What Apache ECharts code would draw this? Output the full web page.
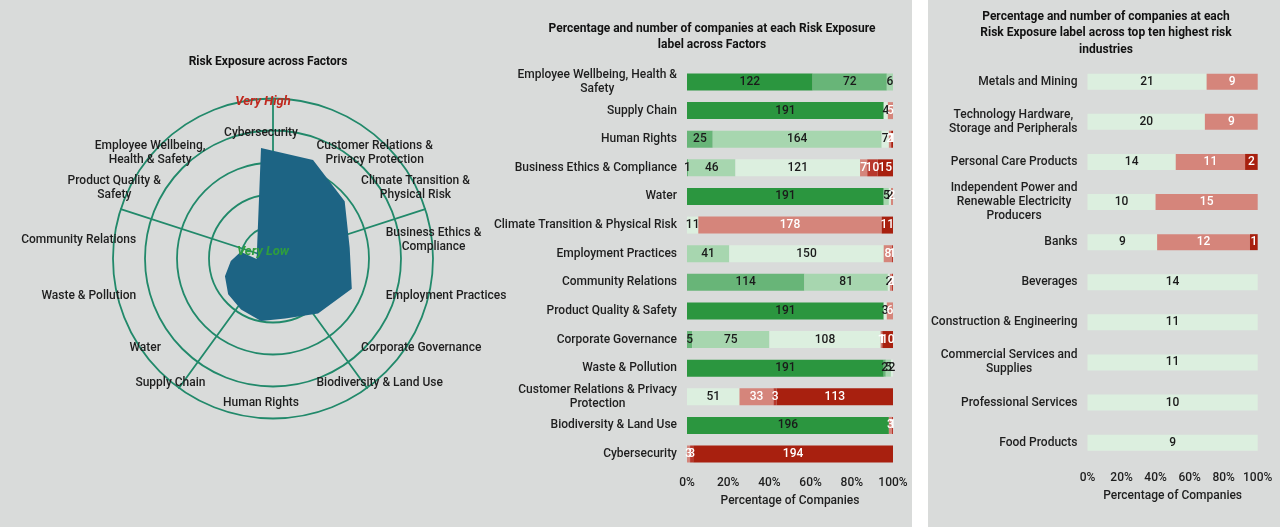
<!DOCTYPE html>
<html>
<head>
<meta charset="utf-8">
<script src="https://cdn.jsdelivr.net/npm/echarts@6/dist/echarts.min.js"></script>
<style>
  html, body { margin: 0; padding: 0; background: #ffffff; }
  #left { position: absolute; left: 0; top: 0; width: 912px; height: 527px; background: #d9dbda; }
  #right { position: absolute; left: 928px; top: 0; width: 352px; height: 527px; background: #d9dbda; }
</style>
</head>
<body>
<div id="left"></div>
<div id="right"></div>
<script>
const FONT = "Roboto";
const TEXT = "#1e1e1e";
const W = 500;

// radar: risk score per factor, clockwise from the top (0 = Very Low, 5 = Very High)
const radarFactors = [
  "Cybersecurity", "Customer Relations &\nPrivacy Protection", "Climate Transition &\nPhysical Risk",
  "Business Ethics &\nCompliance", "Employment Practices", "Corporate Governance",
  "Biodiversity & Land Use", "Human Rights", "Supply Chain", "Water", "Waste & Pollution",
  "Community Relations", "Product Quality &\nSafety", "Employee Wellbeing,\nHealth & Safety"
];
const radarScores = [5.0, 5.0, 4.46, 3.79, 3.88, 3.04, 2.33, 2.21, 1.92, 1.75, 1.54, 1.29, 1.08, 0.42];

// number of companies per risk label, by factor (top to bottom)
const factors = [
  "Employee Wellbeing, Health &\nSafety", "Supply Chain", "Human Rights", "Business Ethics & Compliance",
  "Water", "Climate Transition & Physical Risk", "Employment Practices", "Community Relations",
  "Product Quality & Safety", "Corporate Governance", "Waste & Pollution",
  "Customer Relations & Privacy\nProtection", "Biodiversity & Land Use", "Cybersecurity"
];
const fVeryLow   = [122, 191, 0, 0, 191, 0, 0, 0, 191, 0, 191, 0, 196, 0];
const fLow       = [72, 0, 25, 1, 0, 0, 0, 114, 0, 5, 2, 0, 0, 0];
const fModLow    = [6, 0, 164, 46, 5, 0, 41, 81, 0, 75, 5, 0, 0, 0];
const fModerate  = [0, 4, 7, 121, 2, 11, 150, 2, 3, 108, 2, 51, 0, 0];
const fModHigh   = [0, 5, 2, 7, 2, 178, 8, 2, 6, 1, 0, 33, 3, 3];
const fHigh      = [0, 0, 1, 10, 0, 0, 1, 1, 0, 1, 0, 3, 1, 3];
const fVeryHigh  = [0, 0, 1, 15, 0, 11, 0, 0, 0, 10, 0, 113, 0, 194];

// top ten highest risk industries
const industries = [
  "Metals and Mining", "Technology Hardware,\nStorage and Peripherals", "Personal Care Products",
  "Independent Power and\nRenewable Electricity\nProducers", "Banks", "Beverages",
  "Construction & Engineering", "Commercial Services and\nSupplies", "Professional Services", "Food Products"
];
const iModerate = [21, 20, 14, 10, 9, 14, 11, 11, 10, 9];
const iModHigh  = [9, 9, 11, 15, 12, 0, 0, 0, 0, 0];
const iVeryHigh = [0, 0, 2, 0, 1, 0, 0, 0, 0, 0];

const C = {
  veryLow: "#2b963f", low: "#68b578", modLow: "#a7d6af", moderate: "#dcefdf",
  modHigh: "#d5857b", high: "#b8382c", veryHigh: "#a8200f"
};

function centered(s) {
  return s.split("\n").map(l => "{c|" + l + "}").join("\n");
}
const richC = { c: { align: "center", fontFamily: FONT, fontSize: 12, fontWeight: W, color: TEXT, lineHeight: 14 } };

function totalsOf(lists) {
  return lists[0].map((_, i) => lists.reduce((s, l) => s + l[i], 0));
}

function barSeries(name, counts, totals, color, textColor, width) {
  return {
    name: name, type: "bar", stack: "all", barWidth: width,
    itemStyle: { color: color },
    label: {
      show: true, position: "inside", color: textColor, fontFamily: FONT, fontSize: 12, fontWeight: W,
      formatter: p => counts[p.dataIndex] ? String(counts[p.dataIndex]) : ""
    },
    data: counts.map((c, i) => c / totals[i] * 100)
  };
}

function pctAxis() {
  return {
    type: "value", min: 0, max: 100, interval: 20,
    axisLine: { show: false }, axisTick: { show: false }, splitLine: { show: false },
    axisLabel: { formatter: "{value}%", color: TEXT, fontFamily: FONT, fontSize: 12, fontWeight: W, margin: 9 },
    name: "Percentage of Companies", nameLocation: "middle", nameGap: 27,
    nameTextStyle: { color: TEXT, fontFamily: FONT, fontSize: 12, fontWeight: W }
  };
}

function catAxis(names) {
  return {
    type: "category", data: names, inverse: true,
    axisLine: { show: false }, axisTick: { show: false },
    axisLabel: { formatter: centered, rich: richC, margin: 10 }
  };
}

// ---------- left + middle panel ----------
const leftChart = echarts.init(document.getElementById("left"));

// echarts radar runs counter-clockwise, so reverse everything after the first indicator
const ccw = [0].concat(radarFactors.map((_, i) => i).slice(1).reverse());
const fTotals = totalsOf([fVeryLow, fLow, fModLow, fModerate, fModHigh, fHigh, fVeryHigh]);

leftChart.setOption({
  textStyle: { fontFamily: FONT },
  title: [
    { text: "Risk Exposure across Factors", left: 263, top: 51, textAlign: "center",
      textStyle: { fontFamily: FONT, fontSize: 12, fontWeight: "bold", color: "#111" } },
    { text: "Percentage and number of companies at each Risk Exposure\nlabel across Factors",
      left: 707, top: 16, textAlign: "center",
      textStyle: { fontFamily: FONT, fontSize: 12, fontWeight: "bold", color: "#111", lineHeight: 16 } }
  ],
  radar: [
    {
      center: [273, 258.5], radius: 160, shape: "circle", splitNumber: 5,
      indicator: [0, 1, 2, 3, 4].map(() => ({ name: "", max: 5, min: 0 })),
      axisName: { show: false },
      axisLine: { lineStyle: { color: "#21896a", width: 1.8 } },
      splitLine: { lineStyle: { color: "#21896a", width: 1.8 } },
      splitArea: { show: false }
    },
    {
      center: [261, 268], radius: 120, shape: "circle", nameGap: 8,
      indicator: ccw.map(i => ({ name: radarFactors[i], max: 5, min: 0 })),
      axisName: { color: TEXT, fontFamily: FONT, fontSize: 12, fontWeight: W, formatter: centered, rich: richC },
      axisLine: { show: false }, splitLine: { show: false }, splitArea: { show: false }, axisTick: { show: false }
    }
  ],
  grid: { left: 687, right: 19, top: 67.7, bottom: 58.7 },
  xAxis: pctAxis(),
  yAxis: catAxis(factors),
  graphic: [
    { type: "text", x: 263, y: 102, z: 100,
      style: { text: "Very High", align: "center", verticalAlign: "middle",
               font: "italic bold 13px " + FONT, fill: "#c0281e" } },
    { type: "text", x: 263, y: 252, z: 100,
      style: { text: "Very Low", align: "center", verticalAlign: "middle",
               font: "italic bold 13px " + FONT, fill: "#2f9e3d" } }
  ],
  series: [
    {
      type: "radar", radarIndex: 1, symbol: "none", silent: true,
      lineStyle: { width: 0 },
      areaStyle: { color: "#1d6484", opacity: 1 },
      data: [{ value: ccw.map(i => radarScores[i]), name: "Risk Exposure" }]
    },
    barSeries("Very Low", fVeryLow, fTotals, C.veryLow, "#1a1a1a", 17),
    barSeries("Low", fLow, fTotals, C.low, "#1a1a1a", 17),
    barSeries("Moderately Low", fModLow, fTotals, C.modLow, "#1a1a1a", 17),
    barSeries("Moderate", fModerate, fTotals, C.moderate, "#1a1a1a", 17),
    barSeries("Moderately High", fModHigh, fTotals, C.modHigh, "#ffffff", 17),
    barSeries("High", fHigh, fTotals, C.high, "#ffffff", 17),
    barSeries("Very High", fVeryHigh, fTotals, C.veryHigh, "#ffffff", 17)
  ]
});

// ---------- right panel ----------
const rightChart = echarts.init(document.getElementById("right"));
const iTotals = totalsOf([iModerate, iModHigh, iVeryHigh]);

rightChart.setOption({
  textStyle: { fontFamily: FONT },
  title: {
    text: "Percentage and number of companies at each\nRisk Exposure label across top ten highest risk\nindustries",
    left: 173, top: 4, textAlign: "center",
    textStyle: { fontFamily: FONT, fontSize: 12, fontWeight: "bold", color: "#111", lineHeight: 16.3 }
  },
  grid: { left: 155.3, right: 22.3, top: 61.7, bottom: 64.3 },
  xAxis: pctAxis(),
  yAxis: catAxis(industries),
  series: [
    barSeries("Moderate", iModerate, iTotals, C.moderate, "#1a1a1a", 16),
    barSeries("Moderately High", iModHigh, iTotals, C.modHigh, "#ffffff", 16),
    barSeries("Very High", iVeryHigh, iTotals, C.veryHigh, "#ffffff", 16)
  ]
});
</script>
</body>
</html>
